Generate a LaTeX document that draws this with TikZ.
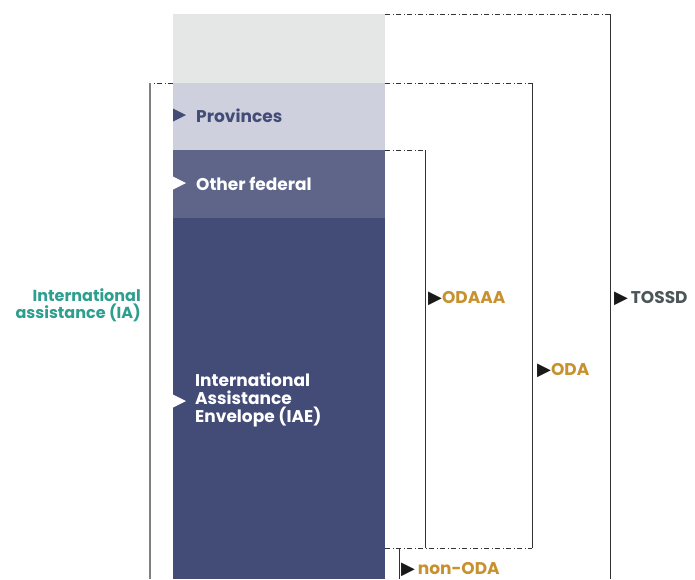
\documentclass[tikz,border=0pt]{standalone}
\usepackage{fontspec}
\setmainfont{Poppins}
\newfontfamily\symfont{DejaVu Sans}
\usetikzlibrary{positioning}

\definecolor{pale}{HTML}{E5E7E6}
\definecolor{prov}{HTML}{CED1DD}
\definecolor{fed}{HTML}{5E6589}
\definecolor{iae}{HTML}{434B77}
\definecolor{iateal}{HTML}{2E9E8E}
\definecolor{gold}{HTML}{C8912F}
\definecolor{slate}{HTML}{4B5657}
\definecolor{rule}{HTML}{333333}

\newcommand{\mk}{{\symfont\fontsize{18}{18}\selectfont\color{black!90}\char"25B6}}

\begin{document}
\begin{tikzpicture}[x=1pt, y=-1pt]
    \tikzstyle{band} = [draw=none, inner sep=0, minimum width=212pt, anchor=north west];
    \tikzstyle{lab} = [inner sep=0, anchor=base west, font=\bfseries\fontsize{17}{18}\selectfont];
    \tikzstyle{dashdot} = [rule, line width=0.8pt, dash pattern=on 5pt off 2.5pt on 1pt off 2.5pt];
    \tikzstyle{bar} = [rule, line width=0.9pt];

    \useasboundingbox (0,0) rectangle (695,579);

    % the column
    \node[band, fill=pale, minimum height=69pt] at (173,14) (top) {};
    \node[band, fill=prov, minimum height=67pt] at (173,83) (prov) {};
    \node[band, fill=fed, minimum height=68pt] at (173,150) (fed) {};
    \node[band, fill=iae, minimum height=361pt] at (173,218) (env) {};

    % markers on the column
    \fill[iae] (173,108.5) -- ++(13,6.5) -- ++(-13,6.5) -- cycle;
    \fill[white] (173,176.5) -- ++(13,6.5) -- ++(-13,6.5) -- cycle;
    \fill[white] (173,394.5) -- ++(13,6.5) -- ++(-13,6.5) -- cycle;

    \node[lab, text=iae] at (196,122) (provlab) {Provinces};
    \node[lab, text=white] at (196,190) (fedlab) {Other federal};
    \node[lab, text=white, anchor=north west, align=left] at (195,373) (envlab)
        {International\\Assistance\\Envelope (IAE)};

    % brackets
    \coordinate (tossd) at (610,579);
    \coordinate (oda) at (532,548);
    \coordinate (odaaa) at (425,548);
    \coordinate (non) at (399,579);
    \coordinate (ia) at (150,579);

    \draw[dashdot] (top.north east) -- (top.north east -| tossd);
    \draw[bar] (top.north east -| tossd) -- (tossd);

    \draw[dashdot] (prov.north east) -- (prov.north east -| oda);
    \draw[bar] (prov.north east -| oda) -- (oda);

    \draw[dashdot] (fed.north east) -- (fed.north east -| odaaa);
    \draw[bar] (fed.north east -| odaaa) -- (odaaa);

    \draw[dashdot] (env.east |- oda) -- (oda);
    \draw[bar] (non |- oda) -- (non);

    \draw[dashdot] (prov.north west) -- (prov.north west -| ia);
    \draw[gray, line width=1.3pt] (prov.north west -| ia) -- (ia);

    % bracket labels
    \node[lab, text=gold] at (428,303) (odaaalab) {\mk ODAAA};
    \node[lab, text=gold] at (537,375) (odalab) {\mk ODA};
    \node[lab, text=slate] at (614,303) (tossdlab) {\mk\,TOSSD};
    \node[lab, text=gold] at (401,574) (nonlab) {\mk\,non-ODA};
    \node[lab, text=iateal, anchor=north east, align=right,
          font=\bfseries\fontsize{16}{17}\selectfont] at (141,288) (ialab)
        {International\\assistance (IA)};
\end{tikzpicture}
\end{document}
